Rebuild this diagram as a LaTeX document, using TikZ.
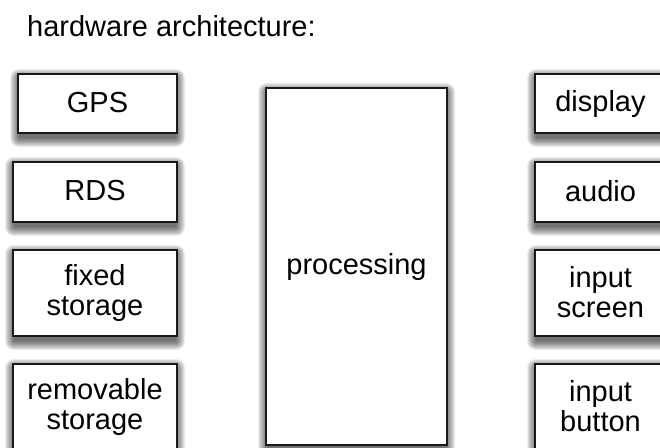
\documentclass[tikz,border=0pt]{standalone}
\usepackage{fontspec}
\setmainfont{Liberation Sans}

\tikzset{
  unitbox/.style={
    draw=black!90, line width=2pt, fill=white, rectangle,
    align=center, inner sep=0pt,
    font=\fontsize{29}{30}\selectfont
  },
  shadowlayer/.style={fill=black, opacity=0.075},
  caption/.style={font=\fontsize{29}{30}\selectfont, inner sep=0pt}
}

% soft drop shadow built from stacked translucent rectangles
\newcommand{\softshadow}[4]{% x0, y0, x1, y1
  \foreach \r in {0,1,...,9}{
    \fill[shadowlayer, rounded corners={\r*1pt}]
      ({#1+1-\r},{#2+4-\r}) rectangle ({#3-1+\r},{#4+5+\r});
  }
}

\newcommand{\hwbox}[6]{% name, x0, y0, x1, y1, label
  \softshadow{#2}{#3}{#4}{#5}
  \node[unitbox, minimum width={#4-#2}, minimum height={#5-#3}]
    (#1) at ({(#2+#4)/2},{(#3+#5)/2})
    {\rule{0pt}{20pt}#6\rule[-3pt]{0pt}{3pt}};
}

\begin{document}
\begin{tikzpicture}[x=1pt, y=-1pt]
  \useasboundingbox (0,0) rectangle (660,447);
  \clip (0,0) rectangle (660,447);
  \fill[white] (0,0) rectangle (660,447);

  \node[caption, anchor=base west] (title) at (27,36) {hardware architecture:};

  % inputs and storage
  \hwbox{gps}{18}{74}{177}{133}{GPS}
  \hwbox{rds}{13}{162}{177}{222}{RDS}
  \hwbox{fixed}{13}{250}{177}{336}{fixed\\storage}
  \hwbox{removable}{13}{364}{177}{450}{removable\\storage}

  % central unit
  \hwbox{proc}{266}{88}{447}{445}{processing}

  % outputs and user input
  \hwbox{display}{535}{74}{666}{133}{display}
  \hwbox{audio}{535}{162}{666}{222}{audio}
  \hwbox{screen}{535}{250}{666}{336}{input\\screen}
  \hwbox{button}{535}{364}{666}{450}{input\\button}
\end{tikzpicture}
\end{document}
